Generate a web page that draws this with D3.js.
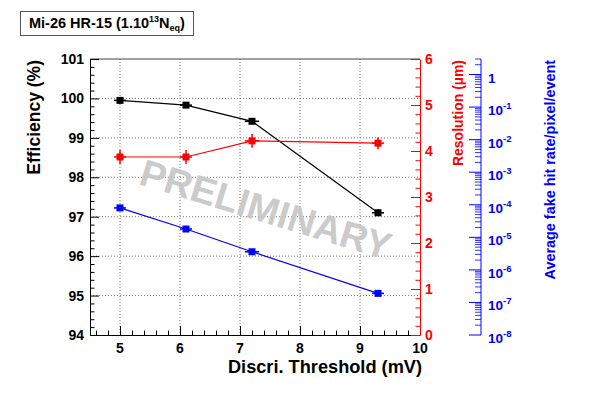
<!DOCTYPE html>
<html>
<head>
<meta charset="utf-8">
<script src="https://cdn.jsdelivr.net/npm/d3@7"></script>
<style>
  body { margin: 0; background: #fff; }
  svg text { font-family: "Liberation Sans", Arial, sans-serif; font-weight: bold; }
</style>
</head>
<body>
<div class="canvas"></div>
<script>
// data
const thresholds = [5.0, 6.1, 7.2, 9.3];
const thresholdErr = [0.1, 0.1, 0.12, 0.1];
const efficiency = [99.95, 99.83, 99.42, 97.1];
const efficiencyErr = [0.03, 0.03, 0.04, 0.08];
const resolution = [3.87, 3.87, 4.22, 4.17];
const resolutionErr = [0.15, 0.15, 0.15, 0.13];
const fakeRate = [8.0e-5, 1.8e-5, 3.6e-6, 1.9e-7];

const xTicks = [5, 6, 7, 8, 9, 10];
const effTicks = [94, 95, 96, 97, 98, 99, 100, 101];
const resTicks = [0, 1, 2, 3, 4, 5, 6];
const rateExps = [0, -1, -2, -3, -4, -5, -6, -7, -8];

const svg = d3.select('.canvas')
  .append('svg')
    .attr('width', 598)
    .attr('height', 395);

// frame
const fLeft = 90, fRight = 420, fTop = 59, fBottom = 335;

const x = d3.scaleLinear().domain([4.5, 10]).range([fLeft, fRight]);
const y = d3.scaleLinear().domain([94, 101]).range([fBottom, fTop]);
const yRes = d3.scaleLinear().domain([0, 6]).range([fBottom, fTop]);
const yRate = d3.scaleLog().domain([1e-8, 3]).range([fBottom, fTop]);

// grid
const grid = svg.append('g')
  .attr('stroke', '#555')
  .attr('stroke-width', 0.8)
  .attr('stroke-dasharray', '1,2');
grid.selectAll('line.v')
  .data(xTicks.filter(d => d < 10))
  .enter().append('line')
    .attr('x1', d => x(d)).attr('x2', d => x(d))
    .attr('y1', fTop).attr('y2', fBottom);
grid.selectAll('line.h')
  .data(effTicks.filter(d => d > 94 && d < 101))
  .enter().append('line')
    .attr('x1', fLeft).attr('x2', fRight)
    .attr('y1', d => y(d)).attr('y2', d => y(d));

// frame top
svg.append('line')
  .attr('x1', fLeft).attr('x2', fRight).attr('y1', fTop).attr('y2', fTop)
  .attr('stroke', '#444').attr('stroke-width', 1);

// left axis (ticks inside)
const leftAxis = d3.axisRight(y)
  .tickValues(d3.range(94, 101.01, 0.2))
  .tickSize(0)
  .tickFormat('');
const leftG = svg.append('g').attr('transform', `translate(${fLeft},0)`).call(leftAxis);
leftG.select('.domain').attr('stroke', '#000');
leftG.selectAll('.tick line')
  .attr('x2', d => Math.abs(d - Math.round(d)) < 1e-6 ? 9 : 4.5)
  .attr('stroke', '#000');
svg.append('g').selectAll('text')
  .data(effTicks)
  .enter().append('text')
    .attr('x', fLeft - 6)
    .attr('y', d => y(d) + 5)
    .attr('text-anchor', 'end')
    .attr('font-size', 14)
    .text(d => d);

// bottom axis (ticks up)
const xAxis = d3.axisTop(x)
  .tickValues(d3.range(4.6, 10.01, 0.2))
  .tickSize(0)
  .tickFormat('');
const xG = svg.append('g').attr('transform', `translate(0,${fBottom})`).call(xAxis);
xG.select('.domain').attr('stroke', '#000');
xG.selectAll('.tick line')
  .attr('y2', d => Math.abs(d - Math.round(d)) < 1e-6 ? -9 : -4.5)
  .attr('stroke', '#000');
svg.append('g').selectAll('text')
  .data(xTicks)
  .enter().append('text')
    .attr('x', d => x(d))
    .attr('y', fBottom + 18)
    .attr('text-anchor', 'middle')
    .attr('font-size', 14)
    .text(d => d);

// red resolution axis
const resAxis = d3.axisLeft(yRes)
  .tickValues(d3.range(0, 6.01, 0.2))
  .tickSize(0)
  .tickFormat('');
const resG = svg.append('g').attr('transform', `translate(${fRight},0)`).call(resAxis);
resG.select('.domain').attr('stroke', '#ff0000');
resG.selectAll('.tick line')
  .attr('x2', d => Math.abs(d - Math.round(d)) < 1e-6 ? -9 : -4.5)
  .attr('stroke', '#ff0000');
svg.append('g').selectAll('text')
  .data(resTicks)
  .enter().append('text')
    .attr('x', fRight + 5)
    .attr('y', d => yRes(d) + 5)
    .attr('font-size', 14)
    .attr('fill', '#ff0000')
    .text(d => d);

// blue log axis
const blueX = 481;
const minorVals = [];
for (let e = -8; e <= 0; e++) {
  for (let m = 2; m <= 9; m++) minorVals.push(m * Math.pow(10, e));
}
const rateG = svg.append('g').attr('transform', `translate(${blueX},0)`);
rateG.append('line')
  .attr('y1', fTop).attr('y2', fBottom)
  .attr('stroke', '#0000ff');
rateG.selectAll('line.major')
  .data(rateExps)
  .enter().append('line')
    .attr('x1', 0).attr('x2', -12)
    .attr('y1', d => yRate(Math.pow(10, d)))
    .attr('y2', d => yRate(Math.pow(10, d)))
    .attr('stroke', '#0000ff');
rateG.selectAll('line.minor')
  .data(minorVals.filter(v => v <= 3))
  .enter().append('line')
    .attr('x1', 0).attr('x2', -6)
    .attr('y1', d => yRate(d))
    .attr('y2', d => yRate(d))
    .attr('stroke', '#0000ff')
    .attr('stroke-width', 0.8);
const rateLabels = svg.append('g').selectAll('text')
  .data(rateExps)
  .enter().append('text')
    .attr('x', blueX + 7)
    .attr('y', d => yRate(Math.pow(10, d)) + 8)
    .attr('font-size', 13.5)
    .attr('fill', '#0000ff');
rateLabels.each(function(d) {
  const t = d3.select(this);
  if (d === 0) { t.text('1'); return; }
  t.append('tspan').text('10');
  t.append('tspan').attr('dy', -6).attr('font-size', 9.5).text(d);
});

// series
const pts = thresholds.map((t, i) => ({
  t, te: thresholdErr[i],
  eff: efficiency[i], effE: efficiencyErr[i],
  res: resolution[i], resE: resolutionErr[i],
  rate: fakeRate[i]
}));

function drawSeries(color, yf, yErr) {
  const g = svg.append('g');
  g.append('path')
    .datum(pts)
    .attr('fill', 'none')
    .attr('stroke', color)
    .attr('stroke-width', 1.2)
    .attr('d', d3.line().x(d => x(d.t)).y(yf));
  g.selectAll('line.h')
    .data(pts).enter().append('line')
      .attr('x1', d => x(d.t - d.te)).attr('x2', d => x(d.t + d.te))
      .attr('y1', yf).attr('y2', yf)
      .attr('stroke', color).attr('stroke-width', 1.5);
  if (yErr) {
    g.selectAll('line.v')
      .data(pts).enter().append('line')
        .attr('x1', d => x(d.t)).attr('x2', d => x(d.t))
        .attr('y1', d => yErr(d)[0]).attr('y2', d => yErr(d)[1])
        .attr('stroke', color).attr('stroke-width', 1.5);
  }
  g.selectAll('rect')
    .data(pts).enter().append('rect')
      .attr('x', d => x(d.t) - 3.5)
      .attr('y', d => yf(d) - 3.5)
      .attr('width', 7).attr('height', 7)
      .attr('fill', color);
}

drawSeries('#000000', d => y(d.eff), d => [y(d.eff - d.effE), y(d.eff + d.effE)]);
drawSeries('#ff0000', d => yRes(d.res), d => [yRes(d.res - d.resE), yRes(d.res + d.resE)]);
drawSeries('#0000ff', d => yRate(d.rate), null);

// watermark
svg.append('text')
  .attr('transform', 'translate(262,222) rotate(17)')
  .attr('text-anchor', 'middle')
  .attr('font-size', 38)
  .attr('fill', '#c4c4c4')
  .attr('fill-opacity', 0.9)
  .text('PRELIMINARY');

// axis titles
svg.append('text')
  .attr('transform', `translate(40,${fTop + 1}) rotate(-90)`)
  .attr('text-anchor', 'end')
  .attr('font-size', 17.5)
  .text('Efficiency (%)');

svg.append('text')
  .attr('x', fRight + 2)
  .attr('y', 373)
  .attr('text-anchor', 'end')
  .attr('font-size', 18.2)
  .text('Discri. Threshold (mV)');

svg.append('text')
  .attr('transform', `translate(463,${fTop + 1}) rotate(-90)`)
  .attr('text-anchor', 'end')
  .attr('font-size', 14)
  .attr('fill', '#ff0000')
  .text('Resolution (\u00b5m)');

svg.append('text')
  .attr('transform', `translate(555,${fTop + 1}) rotate(-90)`)
  .attr('text-anchor', 'end')
  .attr('font-size', 14.4)
  .attr('fill', '#0000ff')
  .text('Average fake hit rate/pixel/event');

// title box
svg.append('rect')
  .attr('x', 20.5).attr('y', 11.5)
  .attr('width', 173).attr('height', 24)
  .attr('fill', '#fff')
  .attr('stroke', '#555');
const title = svg.append('text')
  .attr('x', 29).attr('y', 28)
  .attr('font-size', 14.5);
title.append('tspan').text('Mi-26 HR-15 (1.10');
title.append('tspan').attr('dy', -6).attr('font-size', 9).text('13');
title.append('tspan').attr('dy', 6).text('N');
title.append('tspan').attr('dy', 3).attr('font-size', 9).text('eq');
title.append('tspan').attr('dy', -3).text(')');
</script>
</body>
</html>
